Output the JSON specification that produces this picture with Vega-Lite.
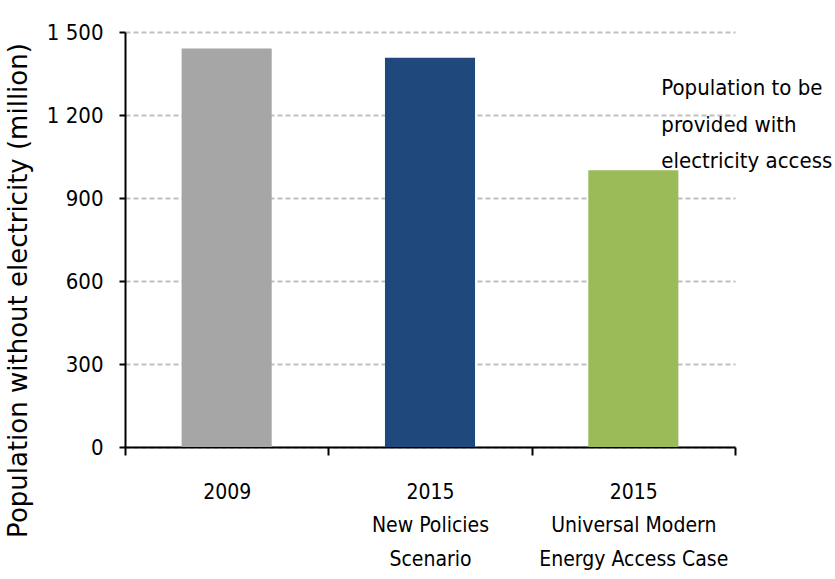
{
  "$schema": "https://vega.github.io/schema/vega-lite/v6.json",
  "width": 610,
  "height": 415,
  "autosize": {"type": "none"},
  "padding": {"left": 125, "top": 32, "right": 100, "bottom": 132},
  "background": "white",
  "config": {"view": {"stroke": null}},
  "data": {
    "values": [
      {"category": "2009", "value": 1440},
      {"category": "2015|New Policies|Scenario", "value": 1407},
      {"category": "2015|Universal Modern|Energy Access Case", "value": 1000}
    ]
  },
  "layer": [
    {
      "mark": {"type": "bar", "width": {"band": 0.443}},
      "encoding": {
        "x": {
          "field": "category",
          "type": "nominal",
          "sort": null,
          "scale": {"paddingInner": 0, "paddingOuter": 0},
          "axis": {
            "title": null,
            "labelAngle": 0,
            "tickBand": "extent",
            "ticks": true,
            "tickSize": 8,
            "tickColor": "black",
            "tickWidth": 2,
            "domainColor": "black",
            "domainWidth": 2,
            "grid": false,
            "labelFont": "DejaVu Sans Condensed",
            "labelFontSize": 21,
            "labelColor": "black",
            "labelExpr": "split(datum.label, '|')",
            "labelLineHeight": 33.5,
            "labelPadding": 26,
            "labelLimit": 400
          }
        },
        "y": {
          "field": "value",
          "type": "quantitative",
          "scale": {"domain": [0, 1500], "nice": false},
          "axis": {
            "values": [0, 300, 600, 900, 1200, 1500],
            "grid": true,
            "gridDash": [5, 3],
            "gridColor": "#c0c0c0",
            "gridWidth": 2,
            "domainColor": "black",
            "domainWidth": 2,
            "tickColor": "black",
            "tickSize": 6,
            "tickWidth": 2,
            "labelFont": "DejaVu Sans Condensed",
            "labelFontSize": 22,
            "labelColor": "black",
            "labelPadding": 16,
            "labelExpr": "replace(format(datum.value, ','), ',', ' ')",
            "title": "Population without electricity (million)",
            "titleFont": "DejaVu Sans",
            "titleFontSize": 26,
            "titleFontWeight": "normal",
            "titleColor": "black",
            "titleAngle": -90,
            "titleX": -107,
            "titleY": 258,
            "titleAlign": "center",
            "titleBaseline": "middle",
            "titleLimit": 600
          }
        },
        "color": {
          "field": "category",
          "type": "nominal",
          "sort": null,
          "scale": {"range": ["#a6a6a6", "#1f497d", "#9bbb59"]},
          "legend": null
        }
      }
    },
    {
      "data": {
        "values": [
          {"category": "2015|Universal Modern|Energy Access Case", "note": "Population to be|provided with|electricity access"}
        ]
      },
      "mark": {
        "type": "text",
        "align": "left",
        "baseline": "alphabetic",
        "dx": 28,
        "lineBreak": "|",
        "lineHeight": 36.5,
        "fontSize": 22,
        "font": "DejaVu Sans Condensed",
        "color": "black"
      },
      "encoding": {
        "x": {"field": "category", "type": "nominal", "sort": null},
        "y": {"datum": 1271, "scale": {"domain": [0, 1500], "nice": false}},
        "text": {"field": "note"}
      }
    }
  ]
}
